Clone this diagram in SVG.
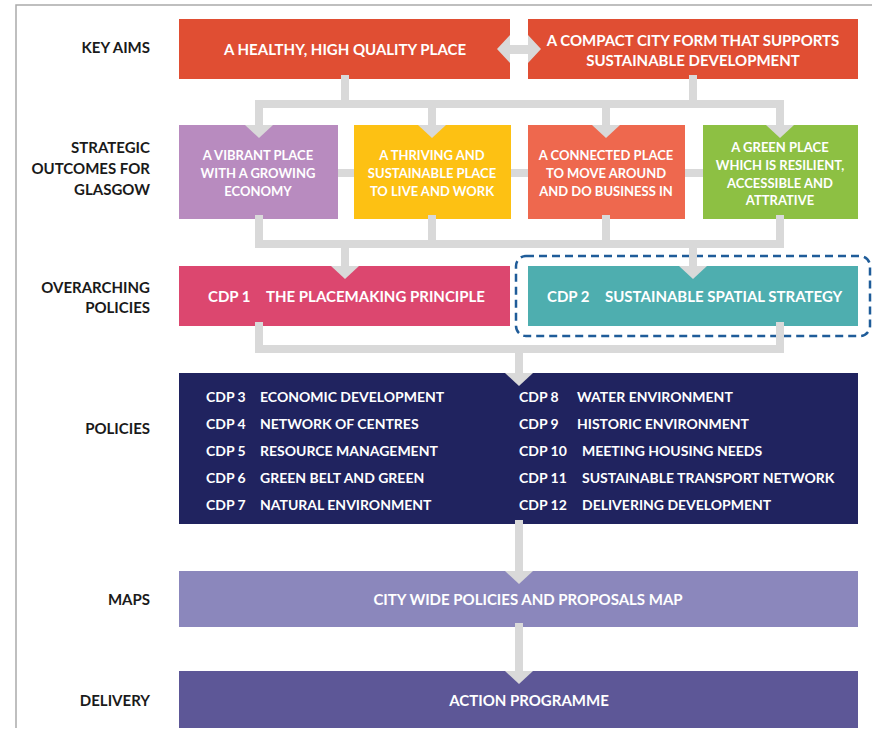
<svg xmlns="http://www.w3.org/2000/svg" width="872" height="735" viewBox="0 0 872 735">
<style>
text{font-family:Lato,"Open Sans","Liberation Sans",sans-serif;font-weight:700;dominant-baseline:central}
.lbl{font-size:15px;fill:#1a1a1a;text-anchor:end}
.w{fill:#fff}
.t15{font-size:15px}
.t13{font-size:13px;text-anchor:middle}
.t14{font-size:14px}
.c{text-anchor:middle}
.con{stroke:#D9D9D9;stroke-width:8;fill:none;stroke-linecap:square}
.ah{fill:#D9D9D9}
</style>
<rect width="872" height="735" fill="#fff"/>
<g id="frame" stroke="#ABABAB" stroke-width="1.5" fill="none"><path d="M16,728 V5 H872"/></g>
<g id="labels">
<text class="lbl" x="150" y="47">KEY AIMS</text>
<text class="lbl" x="150" y="147">STRATEGIC</text>
<text class="lbl" x="150" y="168">OUTCOMES FOR</text>
<text class="lbl" x="150" y="189">GLASGOW</text>
<text class="lbl" x="150" y="287">OVERARCHING</text>
<text class="lbl" x="150" y="307">POLICIES</text>
<text class="lbl" x="150" y="428">POLICIES</text>
<text class="lbl" x="150" y="599">MAPS</text>
<text class="lbl" x="150" y="700">DELIVERY</text>
</g>
<g id="band"><path class="con" d="M300,173 H760"/></g>
<g id="aim1"><rect x="179" y="19" width="331" height="60" fill="#E04E33"/><text class="w t15 c" x="345" y="49">A HEALTHY, HIGH QUALITY PLACE</text></g>
<g id="aim2"><rect x="528" y="19" width="330" height="60" fill="#E04E33"/><text class="w t15 c" x="693" y="40">A COMPACT CITY FORM THAT SUPPORTS</text><text class="w t15 c" x="693" y="60">SUSTAINABLE DEVELOPMENT</text></g>
<g id="out1"><rect x="179" y="125" width="159" height="94" fill="#B88BBF"/><text class="w t13" x="258" y="155">A VIBRANT PLACE</text><text class="w t13" x="258" y="173">WITH A GROWING</text><text class="w t13" x="258" y="191">ECONOMY</text></g>
<g id="out2"><rect x="354" y="125" width="157" height="94" fill="#FDC113"/><text class="w t13" x="432" y="155">A THRIVING AND</text><text class="w t13" x="432" y="173">SUSTAINABLE PLACE</text><text class="w t13" x="432" y="191">TO LIVE AND WORK</text></g>
<g id="out3"><rect x="528" y="125" width="157" height="94" fill="#EE684E"/><text class="w t13" x="606" y="155">A CONNECTED PLACE</text><text class="w t13" x="606" y="173">TO MOVE AROUND</text><text class="w t13" x="606" y="191">AND DO BUSINESS IN</text></g>
<g id="out4"><rect x="703" y="125" width="155" height="94" fill="#8DC043"/><text class="w t13" x="780" y="147">A GREEN PLACE</text><text class="w t13" x="780" y="165">WHICH IS RESILIENT,</text><text class="w t13" x="780" y="183">ACCESSIBLE AND</text><text class="w t13" x="780" y="200">ATTRATIVE</text></g>
<g id="cdp1"><rect x="179" y="266" width="331" height="60" fill="#DC476F"/><text class="w t15" x="208" y="296">CDP 1</text><text class="w t15" x="266" y="296">THE PLACEMAKING PRINCIPLE</text></g>
<g id="cdp2"><rect x="528" y="266" width="330" height="60" fill="#4EAEAF"/><text class="w t15" x="547" y="296">CDP 2</text><text class="w t15" x="605" y="296">SUSTAINABLE SPATIAL STRATEGY</text><rect x="516" y="256" width="354" height="80" rx="10" fill="none" stroke="#1F5C99" stroke-width="2.5" stroke-dasharray="8 5"/></g>
<g id="policies"><rect x="179" y="373" width="679" height="151" fill="#20235F"/>
<text class="w t14" x="206" y="396">CDP 3</text><text class="w t14" x="260" y="396">ECONOMIC DEVELOPMENT</text>
<text class="w t14" x="206" y="423">CDP 4</text><text class="w t14" x="260" y="423">NETWORK OF CENTRES</text>
<text class="w t14" x="206" y="450">CDP 5</text><text class="w t14" x="260" y="450">RESOURCE MANAGEMENT</text>
<text class="w t14" x="206" y="477">CDP 6</text><text class="w t14" x="260" y="477">GREEN BELT AND GREEN</text>
<text class="w t14" x="206" y="504">CDP 7</text><text class="w t14" x="260" y="504">NATURAL ENVIRONMENT</text>
<text class="w t14" x="519" y="396">CDP 8</text><text class="w t14" x="577" y="396">WATER ENVIRONMENT</text>
<text class="w t14" x="519" y="423">CDP 9</text><text class="w t14" x="577" y="423">HISTORIC ENVIRONMENT</text>
<text class="w t14" x="519" y="450">CDP 10</text><text class="w t14" x="582" y="450">MEETING HOUSING NEEDS</text>
<text class="w t14" x="519" y="477">CDP 11</text><text class="w t14" x="582" y="477">SUSTAINABLE TRANSPORT NETWORK</text>
<text class="w t14" x="519" y="504">CDP 12</text><text class="w t14" x="582" y="504">DELIVERING DEVELOPMENT</text>
</g>
<g id="maps"><rect x="179" y="571" width="679" height="56" fill="#8B87BC"/><text class="w t15 c" x="528" y="599">CITY WIDE POLICIES AND PROPOSALS MAP</text></g>
<g id="delivery"><rect x="179" y="671" width="679" height="57" fill="#5D5797"/><text class="w t15 c" x="529" y="700">ACTION PROGRAMME</text></g>
<g id="connectors">
<path class="con" d="M345,79 V104 M693,79 V104 M259,104 H780 M259,104 V121 M432,104 V121 M606,104 V121 M780,104 V121"/>
<path class="con" d="M259,219 V244 M432,219 V244 M606,219 V244 M780,219 V244 M259,244 H780 M345,244 V262 M693,244 V262"/>
<path class="con" d="M259,326 V349 M780,326 V349 M259,349 H780 M519,349 V369"/>
<path class="con" d="M519,524 V567 M519,627 V667"/>
<polygon class="ah" points="245,125 273,125 259,138"/>
<polygon class="ah" points="418,125 446,125 432,138"/>
<polygon class="ah" points="592,125 620,125 606,138"/>
<polygon class="ah" points="766,125 794,125 780,138"/>
<polygon class="ah" points="331,266 359,266 345,279"/>
<polygon class="ah" points="679,266 707,266 693,279"/>
<polygon class="ah" points="505,373 533,373 519,386"/>
<polygon class="ah" points="505,571 533,571 519,584"/>
<polygon class="ah" points="505,671 533,671 519,684"/>
<polygon class="ah" points="497,49 510,35 510,45 528,45 528,35 541,49 528,63 528,54 510,54 510,63"/>
</g>
</svg>
